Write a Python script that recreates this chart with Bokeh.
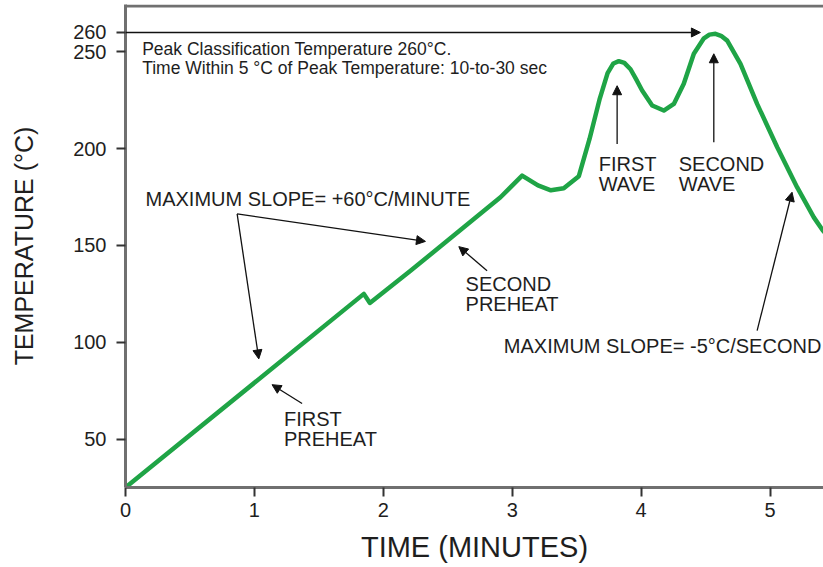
from bokeh.plotting import figure
from bokeh.models import Arrow, NormalHead, Span, FixedTicker, Range1d, ColumnDataSource
from bokeh.embed import file_html
from bokeh.resources import INLINE
from bokeh.core.properties import value

# ---- data ----
time_min = [0.0, 1.849, 1.896, 2.211, 2.909, 3.077, 3.20, 3.30, 3.40, 3.517,
            3.60, 3.68, 3.74, 3.785, 3.827, 3.87, 3.918, 3.96, 4.008, 4.086,
            4.176, 4.254, 4.331, 4.409, 4.487, 4.53, 4.577, 4.62, 4.668, 4.771, 4.90,
            5.056, 5.211, 5.34, 5.41, 5.50]
temp_c = [25.0, 125.0, 120.3, 136.9, 174.9, 186.1, 181.0, 178.5, 179.5, 185.8,
          205.0, 226.0, 239.0, 244.0, 245.2, 244.3, 241.0, 236.0, 230.0, 222.3,
          219.7, 223.1, 233.5, 249.0, 257.0, 258.9, 259.3, 258.3, 255.8, 243.8, 223.1,
          200.7, 180.0, 164.5, 157.7, 151.0]

x_ticks = [0, 1, 2, 3, 4, 5]
y_ticks = [50, 100, 150, 200, 250, 260]
peak_temp = 260

note_text = ["Peak Classification Temperature 260°C.",
             "Time Within 5 °C of Peak Temperature: 10-to-30 sec"]
note_x = [0.129, 0.129]
note_y = [251.7, 241.4]

label_text = ["MAXIMUM SLOPE= +60°C/MINUTE", "FIRST", "PREHEAT", "SECOND", "PREHEAT",
              "FIRST", "WAVE", "SECOND", "WAVE", "MAXIMUM SLOPE= -5°C/SECOND"]
label_x = [0.155, 1.229, 1.229, 2.638, 2.638, 3.671, 3.671, 4.292, 4.292, 2.935]
label_y = [174.2, 60.3, 50.0, 130.1, 119.8, 192.1, 181.8, 192.1, 181.8, 97.9]

arrow_x0 = [0.866, 0.866, 1.370, 2.805, 3.814, 4.564, 4.900, 0.0]
arrow_y0 = [166.3, 166.3, 68.4, 137.0, 202.4, 203.3, 106.0, peak_temp]
arrow_x1 = [2.327, 1.034, 1.137, 2.586, 3.814, 4.564, 5.171, 4.46]
arrow_y1 = [152.1, 91.4, 78.1, 149.4, 232.5, 249.0, 177.5, peak_temp]

FONT = "Liberation Sans"
TXT = "#1e1e1e"
AXC = "#707070"

p = figure(width=823, height=567, output_backend="svg", toolbar_location=None,
           x_range=Range1d(0, 5.415), y_range=Range1d(25, 274.45),
           min_border_left=125, min_border_right=0, min_border_top=4, min_border_bottom=80)
p.outline_line_color = None
p.grid.visible = False
p.background_fill_color = "white"
p.border_fill_color = "white"

p.xaxis.ticker = FixedTicker(ticks=x_ticks)
p.yaxis.ticker = FixedTicker(ticks=y_ticks)
for ax in (p.xaxis, p.yaxis):
    ax.axis_line_color = AXC
    ax.axis_line_width = 3
    ax.major_tick_line_color = "#333333"
    ax.major_tick_line_width = 2
    ax.major_tick_out = 9
    ax.major_tick_in = 0
    ax.minor_tick_line_color = None
    ax.major_label_text_font = FONT
    ax.major_label_text_font_size = "20px"
    ax.major_label_text_color = TXT
    ax.axis_label_text_font = FONT
    ax.axis_label_text_font_style = "normal"
    ax.axis_label_text_color = TXT

p.xaxis.axis_label = "TIME (MINUTES)"
p.xaxis.axis_label_text_font_size = "29px"
p.xaxis.major_label_standoff = 6
p.xaxis.axis_label_standoff = 11
p.yaxis.axis_label = "TEMPERATURE (°C)"
p.yaxis.axis_label_text_font_size = "25px"
p.yaxis.major_label_standoff = 10
p.yaxis.axis_label_standoff = 32

# top border line
p.add_layout(Span(location=273.7, dimension="width", line_color=AXC, line_width=3))

# profile curve
p.line(time_min, temp_c, line_color="#1fa446", line_width=4.5, line_join="round", line_cap="round")

# arrows
asrc = ColumnDataSource(dict(x0=arrow_x0, y0=arrow_y0, x1=arrow_x1, y1=arrow_y1))
p.add_layout(Arrow(source=asrc, x_start="x0", y_start="y0", x_end="x1", y_end="y1",
                   line_color="#111111", line_width=1.3,
                   end=NormalHead(size=9, fill_color="#111111", line_color="#111111", line_width=1)))

# texts
p.text(note_x, note_y, text=note_text, text_font=value(FONT), text_font_size=value("17.5px"),
       text_color=TXT, text_baseline="middle", text_align="left")
p.text(label_x, label_y, text=label_text, text_font=value(FONT), text_font_size=value("20px"),
       text_color=TXT, text_baseline="middle", text_align="left")

open("out.html", "w").write(file_html(p, INLINE))
